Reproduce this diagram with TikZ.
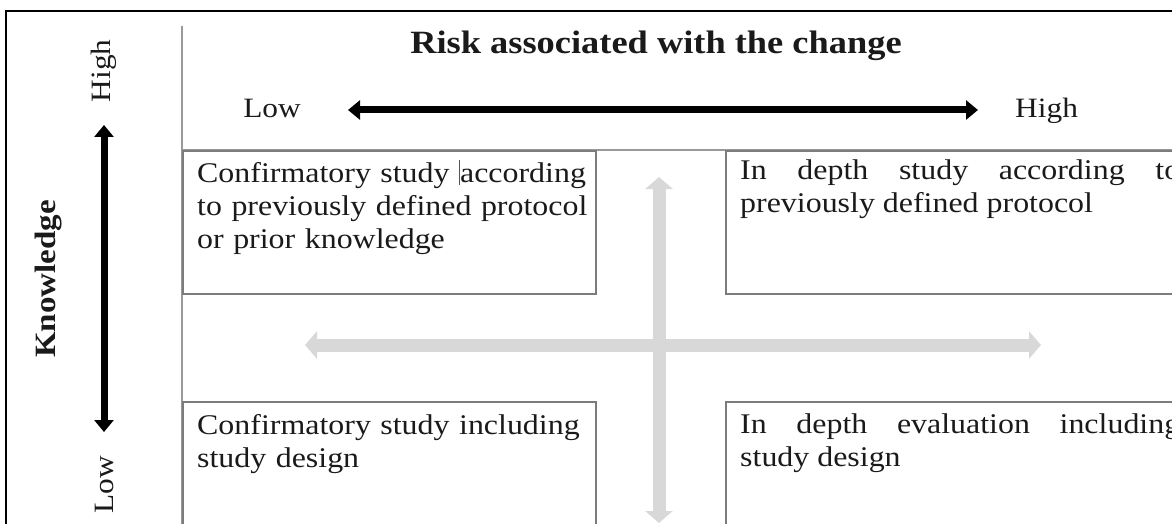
\documentclass[tikz,border=0pt]{standalone}
\usepackage{fontspec}
\setmainfont{Liberation Serif}[FakeStretch=1.12]
\usetikzlibrary{arrows.meta}

\definecolor{rulegray}{HTML}{9A9A9A}
\definecolor{boxgray}{HTML}{7C7C7C}
\definecolor{lightarrow}{HTML}{D8D8D8}
\definecolor{caretgray}{HTML}{555555}
\definecolor{inkblack}{HTML}{1A1A1A}

\tikzset{
  framestyle/.style={black, line width=2pt},
  sepline/.style={rulegray, line width=1.8pt},
  quad/.style={draw=boxgray, line width=1.6pt, rectangle, inner sep=0pt, anchor=north west},
  boxtext/.style={anchor=north west, inner sep=0pt, text=inkblack, font=\fontsize{28.5}{33}\selectfont},
  axislabel/.style={inner sep=0pt, text=inkblack, font=\fontsize{28}{30}\selectfont},
  knowarrow/.style={black, line width=7pt,
    {Triangle[length=12pt,width=19pt]}-{Triangle[length=12pt,width=19pt]}},
  movearrow/.style={lightarrow, line width=13pt,
    {Triangle[length=12pt,width=27pt]}-{Triangle[length=12pt,width=27pt]}},
}

\begin{document}
\begin{tikzpicture}[x=1pt, y=-1pt]
\useasboundingbox (0,0) rectangle (1172,524);
\clip (0,0) rectangle (1172,524);

% outer frame (only top and left edges fall inside the page)
\draw[framestyle] (6,1000) -- (6,11) -- (1300,11);

% separator lines of the header and the side column
\draw[sepline] (182,26) -- (182,600);
\draw[sepline] (182,150) -- (1300,150);

% the four quadrant boxes
\node[quad, minimum width=413pt, minimum height=143pt] (tl) at (182,150) {};
\node[quad, minimum width=480pt, minimum height=143pt] (tr) at (725,150) {};
\node[quad, minimum width=413pt, minimum height=200pt] (bl) at (182,401) {};
\node[quad, minimum width=480pt, minimum height=200pt] (br) at (725,401) {};

% grey cross of arrows between the boxes
\coordinate (crossW) at (305,345);
\coordinate (crossE) at (1041,345);
\coordinate (crossN) at (659,177);
\coordinate (crossS) at (659,523);
\draw[movearrow] (crossW) -- (crossE);
\draw[movearrow] (crossN) -- (crossS);

% box texts
\node[boxtext, text width=400pt, align=left] (tltext) at ([shift={(15pt,-10pt)}]tl.north west)
  {Confirmatory study {\color{caretgray}\rule[-3pt]{1pt}{25pt}}according\\to previously defined protocol\\or prior knowledge};
\node[boxtext, text width=440pt, align=justify] (trtext) at ([shift={(15pt,-10pt)}]tr.north west)
  {In depth study according to\linebreak previously defined protocol};
\node[boxtext, text width=400pt, align=left] (bltext) at ([shift={(15pt,-13pt)}]bl.north west)
  {Confirmatory study including\\study design};
\node[boxtext, text width=440pt, align=justify] (brtext) at ([shift={(15pt,-13pt)}]br.north west)
  {In depth evaluation including\linebreak study design};

% header: risk axis
\node[anchor=base, inner sep=0pt, text=inkblack, font=\fontsize{32.5}{34}\selectfont\bfseries] (risk) at (656,54)
  {Risk associated with the change};
\node[axislabel, anchor=base] (risklow) at (272,118) {Low};
\node[axislabel, anchor=base west] (riskhigh) at (1015,118) {High};
\coordinate (riskL) at (348,110);
\coordinate (riskR) at (978,110);
\draw[knowarrow] (riskL) -- (riskR);

% side column: knowledge axis
\node[rotate=90, inner sep=0pt, text=inkblack, font=\fontsize{29.5}{31}\selectfont\bfseries] (know) at (49,279) {Knowledge};
\node[axislabel, rotate=90] (knowhigh) at (104,71) {High};
\node[axislabel, rotate=90] (knowlow) at (104,485) {Low};
\coordinate (knowT) at (104,125);
\coordinate (knowB) at (104,432);
\draw[knowarrow] (knowT) -- (knowB);
\end{tikzpicture}
\end{document}
